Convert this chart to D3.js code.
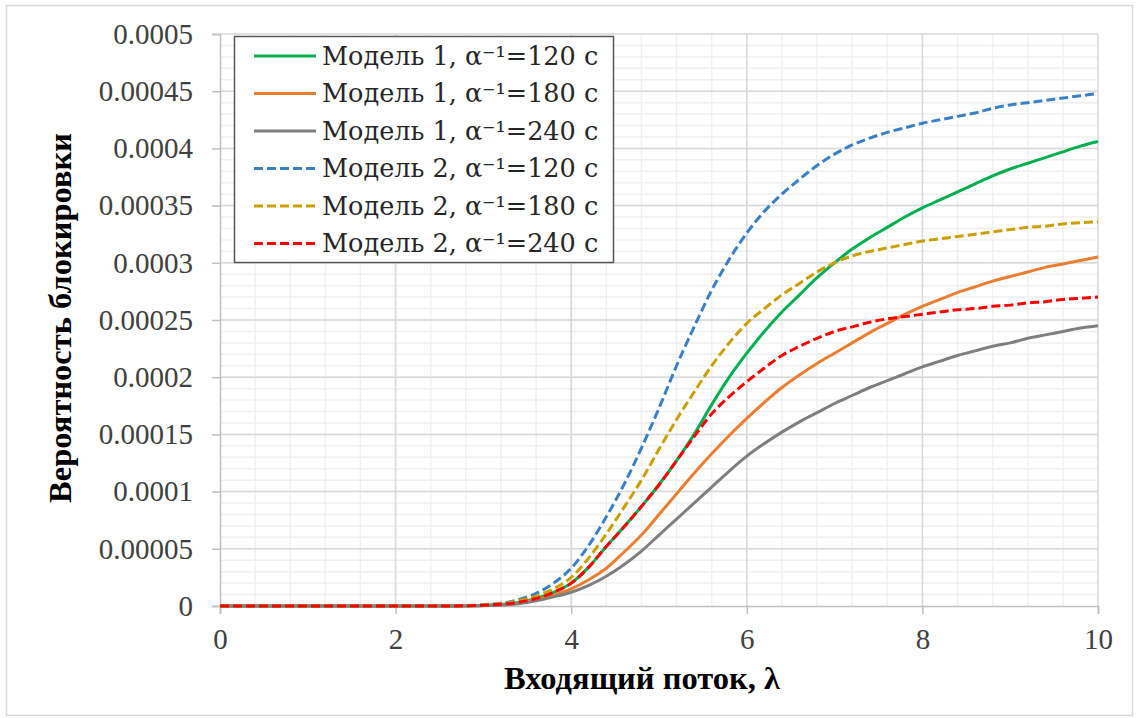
<!DOCTYPE html>
<html>
<head>
<meta charset="utf-8">
<script src="https://cdn.jsdelivr.net/npm/d3@7"></script>
<style>
  body { margin: 0; background: #fff; }
  svg text { font-family: 'Liberation Serif', 'DejaVu Serif', serif; }
</style>
</head>
<body>
<svg id="chart" width="1138" height="718"></svg>
<script>
// Input flow (lambda) values
const lambda = [
  0, 0.2, 0.4, 0.6, 0.8, 1, 1.2, 1.4, 1.6, 1.8, 2, 2.2, 2.4, 2.6, 2.8,
  3, 3.2, 3.4, 3.6, 3.8, 4, 4.2, 4.4, 4.6, 4.8, 5, 5.2, 5.4, 5.6, 5.8,
  6, 6.2, 6.4, 6.6, 6.8, 7, 7.2, 7.4, 7.6, 7.8, 8, 8.2, 8.4, 8.6, 8.8,
  9, 9.2, 9.4, 9.6, 9.8, 10
];

// Blocking probability, in units of 1e-5
const unit = 1e-5;
const model1_120 = [
  0, 0, 0, 0, 0, 0, 0, 0, 0, 0, 0, 0, 0,
  0.005, 0.02, 0.05, 0.15, 0.3, 0.65, 1.2, 2.0, 3.4, 5.2, 6.9, 8.7,
  10.6, 12.7, 15.0, 17.6, 20.0, 22.1, 24.0, 25.7, 27.2, 28.7, 30.0, 31.2, 32.2,
  33.1, 34.0, 34.8, 35.5, 36.2, 36.9, 37.6, 38.2, 38.7, 39.2, 39.7, 40.2, 40.6
];
const model1_180 = [
  0, 0, 0, 0, 0, 0, 0, 0, 0, 0, 0, 0, 0,
  0.003, 0.01, 0.04, 0.1, 0.25, 0.55, 0.95, 1.5, 2.3, 3.3, 4.7, 6.2,
  8.0, 9.8, 11.6, 13.3, 14.9, 16.4, 17.8, 19.1, 20.2, 21.2, 22.1, 23.0, 23.9,
  24.7, 25.5, 26.2, 26.8, 27.4, 27.9, 28.4, 28.8, 29.2, 29.6, 29.9, 30.2, 30.5
];
const model1_240 = [
  0, 0, 0, 0, 0, 0, 0, 0, 0, 0, 0, 0, 0,
  0.002, 0.01, 0.03, 0.08, 0.2, 0.45, 0.8, 1.2, 1.8, 2.6, 3.6, 4.8,
  6.2, 7.6, 9.0, 10.4, 11.8, 13.1, 14.2, 15.2, 16.1, 16.9, 17.7, 18.4, 19.1,
  19.7, 20.3, 20.9, 21.4, 21.9, 22.3, 22.7, 23.0, 23.4, 23.7, 24.0, 24.3, 24.5
];
const model2_120 = [
  0, 0, 0, 0, 0, 0, 0, 0, 0, 0, 0, 0, 0,
  0.01, 0.03, 0.1, 0.25, 0.55, 1.1, 2.0, 3.3, 5.3, 7.8, 10.6, 13.8,
  17.3, 21.0, 24.4, 27.6, 30.3, 32.6, 34.5, 36.0, 37.3, 38.5, 39.5, 40.3, 40.9,
  41.4, 41.8, 42.2, 42.5, 42.8, 43.1, 43.5, 43.8, 44.0, 44.2, 44.4, 44.6, 44.8
];
const model2_180 = [
  0, 0, 0, 0, 0, 0, 0, 0, 0, 0, 0, 0, 0,
  0.008, 0.025, 0.08, 0.2, 0.45, 0.85, 1.5, 2.5, 4.2, 6.3, 8.6, 11.0,
  13.7, 16.3, 18.7, 21.0, 23.0, 24.7, 26.0, 27.2, 28.2, 29.2, 30.0, 30.6, 31.0,
  31.3, 31.6, 31.9, 32.1, 32.3, 32.5, 32.7, 32.9, 33.1, 33.2, 33.4, 33.5, 33.6
];
const model2_240 = [
  0, 0, 0, 0, 0, 0, 0, 0, 0, 0, 0, 0, 0,
  0.006, 0.02, 0.06, 0.15, 0.32, 0.65, 1.2, 2.0, 3.4, 5.2, 6.9, 8.7,
  10.6, 12.7, 14.8, 16.8, 18.3, 19.6, 20.8, 21.9, 22.7, 23.4, 24.0, 24.4, 24.8,
  25.1, 25.3, 25.5, 25.7, 25.9, 26.0, 26.2, 26.3, 26.5, 26.6, 26.8, 26.9, 27.0
];

const seriesNames = [
  "Модель 1, α⁻¹=120 с",
  "Модель 1, α⁻¹=180 с",
  "Модель 1, α⁻¹=240 с",
  "Модель 2, α⁻¹=120 с",
  "Модель 2, α⁻¹=180 с",
  "Модель 2, α⁻¹=240 с"
];
const seriesValues = [model1_120, model1_180, model1_240, model2_120, model2_180, model2_240];
const seriesColors = ["#00b050", "#ed7d31", "#7f7f7f", "#3a80c8", "#c9a000", "#ff0000"];
const seriesDashed = [false, false, false, true, true, true];

const xTicks = [0, 2, 4, 6, 8, 10];
const yTicks = [0, 0.00005, 0.0001, 0.00015, 0.0002, 0.00025, 0.0003, 0.00035, 0.0004, 0.00045, 0.0005];
const xTitle = "Входящий поток, λ";
const yTitle = "Вероятность блокировки";

const serif = "'Liberation Serif', 'DejaVu Serif', serif";
const legendFont = "'DejaVu Serif', 'Liberation Serif', serif";

// Plot area
const plot = { left: 220, right: 1098, top: 34, bottom: 606 };

const svg = d3.select("#chart");

// Outer chart border
svg.append("rect")
  .attr("x", 6.5).attr("y", 5.5)
  .attr("width", 1126).attr("height", 710)
  .attr("fill", "#fff")
  .attr("stroke", "#d9d9d9")
  .attr("stroke-width", 1.5);

const x = d3.scaleLinear().domain([0, 10]).range([plot.left, plot.right]);
const y = d3.scaleLinear().domain([0, 0.0005]).range([plot.bottom, plot.top]);

// Minor gridlines
const grid = svg.append("g");
grid.selectAll("line.vminor")
  .data(d3.range(0.4, 10, 0.4))
  .enter().append("line")
  .attr("x1", (d) => x(d)).attr("x2", (d) => x(d))
  .attr("y1", plot.top).attr("y2", plot.bottom)
  .attr("stroke", "#f0f0f0").attr("stroke-width", 1.5);
grid.selectAll("line.hminor")
  .data(d3.range(0.00001, 0.0005, 0.00001))
  .enter().append("line")
  .attr("x1", plot.left).attr("x2", plot.right)
  .attr("y1", (d) => y(d)).attr("y2", (d) => y(d))
  .attr("stroke", "#f0f0f0").attr("stroke-width", 1.5);

// Major gridlines
grid.selectAll("line.vmajor")
  .data(xTicks.slice(1))
  .enter().append("line")
  .attr("x1", (d) => x(d)).attr("x2", (d) => x(d))
  .attr("y1", plot.top).attr("y2", plot.bottom)
  .attr("stroke", "#d9d9d9").attr("stroke-width", 1.5);
grid.selectAll("line.hmajor")
  .data(yTicks.slice(1))
  .enter().append("line")
  .attr("x1", plot.left).attr("x2", plot.right)
  .attr("y1", (d) => y(d)).attr("y2", (d) => y(d))
  .attr("stroke", "#d9d9d9").attr("stroke-width", 1.5);

// Axes
svg.append("g")
  .attr("transform", `translate(0, ${plot.bottom})`)
  .call(d3.axisBottom(x).tickValues(xTicks).tickSize(8).tickPadding(14).tickFormat(d3.format("d")));
svg.append("g")
  .attr("transform", `translate(${plot.left}, 0)`)
  .call(d3.axisLeft(y).tickValues(yTicks).tickSize(8).tickPadding(19)
    .tickFormat((d) => (d === 0 ? "0" : String(+d.toFixed(5)))));
svg.selectAll("path.domain").attr("stroke", "#bfbfbf").attr("stroke-width", 1.5);
svg.selectAll("g.tick line").attr("stroke", "#bfbfbf").attr("stroke-width", 1.5);
svg.selectAll("g.tick text")
  .attr("fill", "#404040")
  .style("font-family", serif)
  .style("font-size", "29px");

// Lines
const line = d3.line()
  .x((d, i) => x(lambda[i]))
  .y((d) => y(d * unit))
  .curve(d3.curveMonotoneX);

const lines = svg.append("g");
seriesValues.forEach((vals, k) => {
  lines.append("path")
    .datum(vals)
    .attr("fill", "none")
    .attr("stroke", seriesColors[k])
    .attr("stroke-width", 3)
    .attr("stroke-dasharray", seriesDashed[k] ? "9,4" : null)
    .attr("d", line);
});

// Axis titles
svg.append("text")
  .attr("x", 642).attr("y", 678)
  .attr("dy", "0.35em")
  .attr("text-anchor", "middle")
  .style("font-family", serif)
  .style("font-size", "32.5px")
  .style("font-weight", "bold")
  .text(xTitle);
svg.append("text")
  .attr("transform", "translate(60, 318) rotate(-90)")
  .attr("dy", "0.35em")
  .attr("text-anchor", "middle")
  .style("font-family", serif)
  .style("font-size", "32.5px")
  .style("font-weight", "bold")
  .text(yTitle);

// Legend
const legend = svg.append("g");
legend.append("rect")
  .attr("x", 234.5).attr("y", 36.5)
  .attr("width", 379).attr("height", 226)
  .attr("fill", "#fff")
  .attr("stroke", "#595959")
  .attr("stroke-width", 1.5);
seriesNames.forEach((name, k) => {
  const cy = 56 + k * 37.5;
  legend.append("line")
    .attr("x1", 254).attr("x2", 316)
    .attr("y1", cy).attr("y2", cy)
    .attr("stroke", seriesColors[k])
    .attr("stroke-width", 3)
    .attr("stroke-dasharray", seriesDashed[k] ? "9,4" : null);
  legend.append("text")
    .attr("x", 322).attr("y", cy)
    .attr("dy", "0.35em")
    .attr("fill", "#262626")
    .style("font-family", legendFont)
    .style("font-size", "25.5px")
    .text(name);
});
</script>
</body>
</html>
